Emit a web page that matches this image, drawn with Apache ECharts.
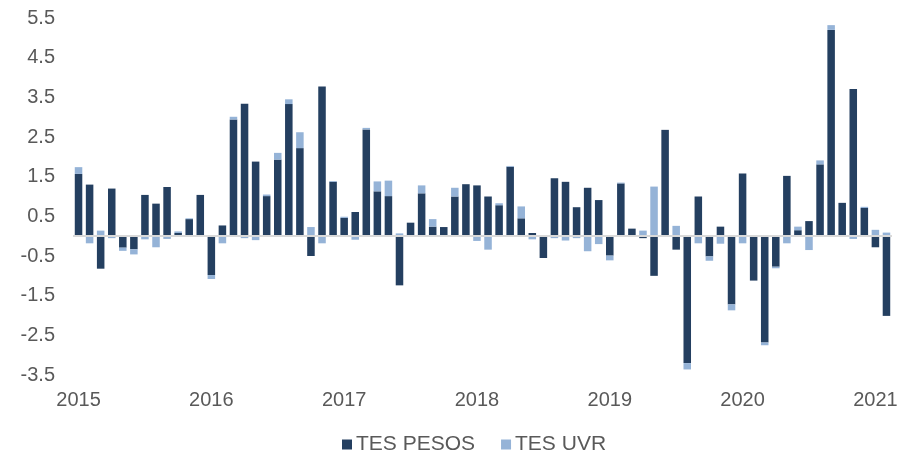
<!DOCTYPE html>
<html>
<head>
<meta charset="utf-8">
<script src="https://cdn.jsdelivr.net/npm/echarts@6/dist/echarts.min.js"></script>
<style>
  html, body {margin: 0; padding: 0; background: #fff;}
  #chart {width: 908px; height: 458px;}
</style>
</head>
<body>
<div id="chart"></div>
<script>
// meses ene-2015 .. feb-2021
const months = [
    '2015-01','2015-02','2015-03','2015-04','2015-05','2015-06','2015-07','2015-08','2015-09','2015-10','2015-11','2015-12',
    '2016-01','2016-02','2016-03','2016-04','2016-05','2016-06','2016-07','2016-08','2016-09','2016-10','2016-11','2016-12',
    '2017-01','2017-02','2017-03','2017-04','2017-05','2017-06','2017-07','2017-08','2017-09','2017-10','2017-11','2017-12',
    '2018-01','2018-02','2018-03','2018-04','2018-05','2018-06','2018-07','2018-08','2018-09','2018-10','2018-11','2018-12',
    '2019-01','2019-02','2019-03','2019-04','2019-05','2019-06','2019-07','2019-08','2019-09','2019-10','2019-11','2019-12',
    '2020-01','2020-02','2020-03','2020-04','2020-05','2020-06','2020-07','2020-08','2020-09','2020-10','2020-11','2020-12',
    '2021-01','2021-02'
];

const tesPesos = [
    1.57, 1.30, -0.82, 1.20, -0.29, -0.33, 1.04, 0.82, 1.24, 0.08, 0.43, 1.04,
    -0.98, 0.27, 2.94, 3.34, 1.88, 1.01, 1.93, 3.33, 2.22, -0.50, 3.77, 1.37,
    0.46, 0.61, 2.69, 1.13, 1.01, -1.24, 0.34, 1.08, 0.24, 0.23, 1.00, 1.31,
    1.28, 1.00, 0.78, 1.75, 0.45, 0.08, -0.55, 1.46, 1.37, 0.73, 1.22, 0.91,
    -0.49, 1.33, 0.19, -0.05, -1.00, 2.68, -0.34, -3.20, 1.00, -0.51, 0.24, -1.72,
    1.58, -1.12, -2.68, -0.77, 1.52, 0.15, 0.38, 1.81, 5.20, 0.84, 3.71, 0.71,
    -0.28, -2.01
];

const tesUvr = [
    0.17, -0.18, 0.14, -0.05, -0.08, -0.13, -0.08, -0.28, -0.07, 0.04, 0.02, 0,
    -0.10, -0.18, 0.07, -0.05, -0.10, 0.04, 0.17, 0.12, 0.40, 0.23, -0.18, 0.02,
    0.03, -0.09, 0.04, 0.25, 0.39, 0.07, 0, 0.20, 0.19, 0, 0.22, 0,
    -0.12, -0.34, 0.05, 0.02, 0.30, -0.08, 0, -0.05, -0.11, -0.05, -0.38, -0.20,
    -0.12, 0.02, 0, 0.14, 1.25, 0, 0.26, -0.16, -0.18, -0.11, -0.19, -0.15,
    -0.18, 0, -0.07, -0.04, -0.18, 0.09, -0.35, 0.10, 0.12, 0, -0.07, 0.03,
    0.16, 0.09
];

const seriesNames = ['TES PESOS', 'TES UVR'];
const colors = ['#243F60', '#95B3D7'];

const font = 'Liberation Sans, Arial, sans-serif';

const chart = echarts.init(document.getElementById('chart'));

chart.setOption({
    animation: false,
    color: colors,
    grid: {
        left: 73,
        right: 16,
        top: 18,
        bottom: 458 - 375
    },
    legend: {
        data: seriesNames,
        top: 429,
        left: 337,
        icon: 'rect',
        itemWidth: 10,
        itemHeight: 10,
        itemGap: 26,
        textStyle: {
            color: '#595959',
            fontSize: 21,
            fontFamily: font,
            padding: [0, 0, 0, -1]
        }
    },
    xAxis: {
        type: 'category',
        data: months,
        axisLine: {show: false, onZero: false},
        axisTick: {show: false},
        axisLabel: {
            // solo enero muestra el año
            interval: (i, v) => v.endsWith('-01'),
            formatter: v => v.slice(0, 4),
            color: '#595959',
            fontSize: 20,
            fontFamily: font,
            margin: 15
        },
        splitLine: {show: false}
    },
    yAxis: {
        type: 'value',
        min: -3.5,
        max: 5.5,
        interval: 0.5,
        axisLine: {show: false},
        axisTick: {show: false},
        splitLine: {show: false},
        axisLabel: {
            // etiquetas en -3.5, -2.5, ... 5.5
            formatter: v => (Math.abs(((v + 3.5) % 1)) < 1e-6 ? v.toFixed(1) : ''),
            color: '#595959',
            fontSize: 20,
            fontFamily: font,
            margin: 18
        }
    },
    series: [
        {
            name: seriesNames[0],
            type: 'bar',
            stack: 'tes',
            barWidth: '68%',
            data: tesPesos,
            itemStyle: {color: colors[0]},
            markLine: {
                silent: true,
                symbol: 'none',
                label: {show: false},
                lineStyle: {color: '#D9D9D9', width: 2, type: 'solid'},
                data: [{yAxis: 0}]
            }
        },
        {
            name: seriesNames[1],
            type: 'bar',
            stack: 'tes',
            barWidth: '68%',
            data: tesUvr,
            itemStyle: {color: colors[1]}
        }
    ]
});
</script>
</body>
</html>
